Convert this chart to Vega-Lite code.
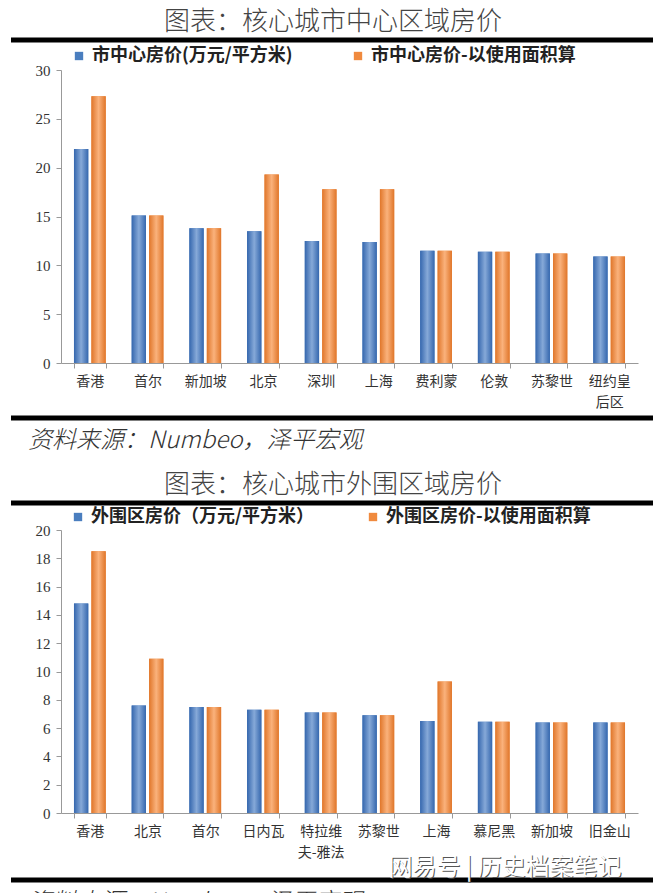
{
  "$schema": "https://vega.github.io/schema/vega-lite/v6.json",
  "padding": {"left": 8, "top": 0, "right": 0, "bottom": 0},
  "background": "white",
  "spacing": 0,
  "bounds": "flush",
  "config": {"view": {"stroke": null}, "font": "Noto Sans CJK SC"},
  "resolve": {
    "scale": {"x": "independent", "y": "independent", "color": "independent", "xOffset": "independent", "fill": "independent"},
    "legend": {"color": "independent"},
    "axis": {"x": "independent", "y": "independent"}
  },
  "datasets": {
    "center": [
      {"city": "香港", "series": "市中心房价(万元/平方米)", "value": 21.9},
      {"city": "香港", "series": "市中心房价-以使用面积算", "value": 27.3},
      {"city": "首尔", "series": "市中心房价(万元/平方米)", "value": 15.1},
      {"city": "首尔", "series": "市中心房价-以使用面积算", "value": 15.1},
      {"city": "新加坡", "series": "市中心房价(万元/平方米)", "value": 13.8},
      {"city": "新加坡", "series": "市中心房价-以使用面积算", "value": 13.8},
      {"city": "北京", "series": "市中心房价(万元/平方米)", "value": 13.5},
      {"city": "北京", "series": "市中心房价-以使用面积算", "value": 19.3},
      {"city": "深圳", "series": "市中心房价(万元/平方米)", "value": 12.5},
      {"city": "深圳", "series": "市中心房价-以使用面积算", "value": 17.8},
      {"city": "上海", "series": "市中心房价(万元/平方米)", "value": 12.4},
      {"city": "上海", "series": "市中心房价-以使用面积算", "value": 17.8},
      {"city": "费利蒙", "series": "市中心房价(万元/平方米)", "value": 11.5},
      {"city": "费利蒙", "series": "市中心房价-以使用面积算", "value": 11.5},
      {"city": "伦敦", "series": "市中心房价(万元/平方米)", "value": 11.4},
      {"city": "伦敦", "series": "市中心房价-以使用面积算", "value": 11.4},
      {"city": "苏黎世", "series": "市中心房价(万元/平方米)", "value": 11.2},
      {"city": "苏黎世", "series": "市中心房价-以使用面积算", "value": 11.2},
      {"city": "纽约皇后区", "series": "市中心房价(万元/平方米)", "value": 10.9},
      {"city": "纽约皇后区", "series": "市中心房价-以使用面积算", "value": 10.9}
    ],
    "outer": [
      {"city": "香港", "series": "外围区房价（万元/平方米）", "value": 14.8},
      {"city": "香港", "series": "外围区房价-以使用面积算", "value": 18.5},
      {"city": "北京", "series": "外围区房价（万元/平方米）", "value": 7.6},
      {"city": "北京", "series": "外围区房价-以使用面积算", "value": 10.9},
      {"city": "首尔", "series": "外围区房价（万元/平方米）", "value": 7.5},
      {"city": "首尔", "series": "外围区房价-以使用面积算", "value": 7.5},
      {"city": "日内瓦", "series": "外围区房价（万元/平方米）", "value": 7.3},
      {"city": "日内瓦", "series": "外围区房价-以使用面积算", "value": 7.3},
      {"city": "特拉维夫-雅法", "series": "外围区房价（万元/平方米）", "value": 7.1},
      {"city": "特拉维夫-雅法", "series": "外围区房价-以使用面积算", "value": 7.1},
      {"city": "苏黎世", "series": "外围区房价（万元/平方米）", "value": 6.9},
      {"city": "苏黎世", "series": "外围区房价-以使用面积算", "value": 6.9},
      {"city": "上海", "series": "外围区房价（万元/平方米）", "value": 6.5},
      {"city": "上海", "series": "外围区房价-以使用面积算", "value": 9.3},
      {"city": "慕尼黑", "series": "外围区房价（万元/平方米）", "value": 6.45},
      {"city": "慕尼黑", "series": "外围区房价-以使用面积算", "value": 6.45},
      {"city": "新加坡", "series": "外围区房价（万元/平方米）", "value": 6.4},
      {"city": "新加坡", "series": "外围区房价-以使用面积算", "value": 6.4},
      {"city": "旧金山", "series": "外围区房价（万元/平方米）", "value": 6.4},
      {"city": "旧金山", "series": "外围区房价-以使用面积算", "value": 6.4}
    ]
  },
  "vconcat": [
    {
      "width": 577, "height": 70,
      "data": {"values": [{}]},
      "layer": [
        {
          "mark": {"type": "text", "fontSize": 26, "color": "#444", "fontWeight": 300, "baseline": "middle", "align": "center"},
          "encoding": {
            "x": {"datum": 272, "type": "quantitative", "scale": {"domain": [0, 577], "nice": false, "zero": false}, "axis": null},
            "y": {"datum": 22, "type": "quantitative", "scale": {"domain": [0, 70], "nice": false, "zero": false, "reverse": true}, "axis": null},
            "text": {"value": "图表：核心城市中心区域房价"}
          }
        },
        {
          "mark": {"type": "rule", "strokeWidth": 5, "color": "black"},
          "encoding": {
            "x": {"datum": -50, "type": "quantitative"},
            "x2": {"datum": 592},
            "y": {"datum": 40, "type": "quantitative"}
          }
        }
      ]
    },
    {
      "width": 577, "height": 293,
      "data": {"name": "center"},
      "encoding": {
        "x": {"field": "city", "type": "nominal", "sort": null,
          "scale": {"paddingInner": 0.45, "paddingOuter": 0.225},
          "axis": {"title": null, "labelAngle": 0, "tickBand": "extent", "labelFont": "Noto Sans CJK SC", "labelFontSize": 14, "labelColor": "#333", "domainColor": "#999", "tickColor": "#999", "tickSize": 5, "labelPadding": 6, "labelLineHeight": 21,
            "labelExpr": "datum.label == '纽约皇后区' ? ['纽约皇', '后区'] : datum.label"}},
        "xOffset": {"field": "series", "type": "nominal", "sort": null, "scale": {"paddingInner": 0.18}},
        "y": {"field": "value", "type": "quantitative", "scale": {"domain": [0, 30], "nice": false},
          "axis": {"title": null, "values": [0, 5, 10, 15, 20, 25, 30], "grid": false, "labelFont": "Liberation Serif, serif", "labelFontSize": 15, "labelColor": "#333", "domainColor": "#999", "tickColor": "#999", "tickSize": 5, "labelPadding": 6}}
      },
      "layer": [
        {
          "mark": {"type": "bar"},
          "encoding": {
            "color": {"field": "series", "type": "nominal", "sort": null,
              "scale": {"range": ["#4A7EBF", "#F08A3E"]},
              "legend": {"title": null, "orient": "none", "legendX": 9, "legendY": -23, "direction": "horizontal", "symbolType": "square", "symbolSize": 70, "labelFont": "Noto Sans CJK SC", "labelFontSize": 18, "labelFontWeight": "bold", "labelColor": "#222", "columnPadding": 56, "labelLimit": 400, "symbolStrokeWidth": 0}}
          }
        },
        {
          "mark": {"type": "bar"},
          "encoding": {
            "fill": {
              "condition": {"test": "indexof(datum.series, '以使用') >= 0",
                "value": {"gradient": "linear", "x1": 0, "x2": 1, "y1": 0, "y2": 0, "stops": [{"offset": 0, "color": "#E0762A"}, {"offset": 0.5, "color": "#FAB27C"}, {"offset": 1, "color": "#E0762A"}]}},
              "value": {"gradient": "linear", "x1": 0, "x2": 1, "y1": 0, "y2": 0, "stops": [{"offset": 0, "color": "#3567AE"}, {"offset": 0.5, "color": "#86A9D8"}, {"offset": 1, "color": "#3567AE"}]}
            }
          }
        }
      ]
    },
    {
      "width": 577, "height": 167,
      "data": {"values": [{}]},
      "layer": [
        {
          "mark": {"type": "rule", "strokeWidth": 5, "color": "black"},
          "encoding": {
            "x": {"datum": -50, "type": "quantitative", "scale": {"domain": [0, 577], "nice": false, "zero": false}, "axis": null},
            "x2": {"datum": 592},
            "y": {"datum": 55, "type": "quantitative", "scale": {"domain": [0, 167], "nice": false, "zero": false, "reverse": true}, "axis": null}
          }
        },
        {
          "mark": {"type": "text", "fontSize": 24, "color": "#333", "fontStyle": "italic", "fontWeight": 300, "baseline": "middle", "align": "left"},
          "encoding": {
            "x": {"datum": -33, "type": "quantitative"},
            "y": {"datum": 78, "type": "quantitative"},
            "text": {"value": "资料来源：Numbeo，泽平宏观"}
          }
        },
        {
          "mark": {"type": "text", "fontSize": 26, "color": "#444", "fontWeight": 300, "baseline": "middle", "align": "center"},
          "encoding": {
            "x": {"datum": 272, "type": "quantitative"},
            "y": {"datum": 122, "type": "quantitative"},
            "text": {"value": "图表：核心城市外围区域房价"}
          }
        },
        {
          "mark": {"type": "rule", "strokeWidth": 5, "color": "black"},
          "encoding": {
            "x": {"datum": -50, "type": "quantitative"},
            "x2": {"datum": 592},
            "y": {"datum": 140, "type": "quantitative"}
          }
        }
      ]
    },
    {
      "width": 577, "height": 283,
      "data": {"name": "outer"},
      "encoding": {
        "x": {"field": "city", "type": "nominal", "sort": null,
          "scale": {"paddingInner": 0.45, "paddingOuter": 0.225},
          "axis": {"title": null, "labelAngle": 0, "tickBand": "extent", "labelFont": "Noto Sans CJK SC", "labelFontSize": 14, "labelColor": "#333", "domainColor": "#999", "tickColor": "#999", "tickSize": 5, "labelPadding": 6, "labelLineHeight": 21,
            "labelExpr": "datum.label == '特拉维夫-雅法' ? ['特拉维', '夫-雅法'] : datum.label"}},
        "xOffset": {"field": "series", "type": "nominal", "sort": null, "scale": {"paddingInner": 0.18}},
        "y": {"field": "value", "type": "quantitative", "scale": {"domain": [0, 20], "nice": false},
          "axis": {"title": null, "values": [0, 2, 4, 6, 8, 10, 12, 14, 16, 18, 20], "grid": false, "labelFont": "Liberation Serif, serif", "labelFontSize": 15, "labelColor": "#333", "domainColor": "#999", "tickColor": "#999", "tickSize": 5, "labelPadding": 6}}
      },
      "layer": [
        {
          "mark": {"type": "bar"},
          "encoding": {
            "color": {"field": "series", "type": "nominal", "sort": null,
              "scale": {"range": ["#4A7EBF", "#F08A3E"]},
              "legend": {"title": null, "orient": "none", "legendX": 8, "legendY": -22, "direction": "horizontal", "symbolType": "square", "symbolSize": 70, "labelFont": "Noto Sans CJK SC", "labelFontSize": 18, "labelFontWeight": "bold", "labelColor": "#222", "columnPadding": 50, "labelLimit": 400, "symbolStrokeWidth": 0}}
          }
        },
        {
          "mark": {"type": "bar"},
          "encoding": {
            "fill": {
              "condition": {"test": "indexof(datum.series, '以使用') >= 0",
                "value": {"gradient": "linear", "x1": 0, "x2": 1, "y1": 0, "y2": 0, "stops": [{"offset": 0, "color": "#E0762A"}, {"offset": 0.5, "color": "#FAB27C"}, {"offset": 1, "color": "#E0762A"}]}},
              "value": {"gradient": "linear", "x1": 0, "x2": 1, "y1": 0, "y2": 0, "stops": [{"offset": 0, "color": "#3567AE"}, {"offset": 0.5, "color": "#86A9D8"}, {"offset": 1, "color": "#3567AE"}]}
            }
          }
        }
      ]
    },
    {
      "width": 577, "height": 80,
      "data": {"values": [{}]},
      "layer": [
        {
          "mark": {"type": "rule", "strokeWidth": 5, "color": "black"},
          "encoding": {
            "x": {"datum": -50, "type": "quantitative", "scale": {"domain": [0, 577], "nice": false, "zero": false}, "axis": null},
            "x2": {"datum": 592},
            "y": {"datum": 67, "type": "quantitative", "scale": {"domain": [0, 80], "nice": false, "zero": false, "reverse": true}, "axis": null}
          }
        },
        {
          "mark": {"type": "text", "fontSize": 24, "color": "#333", "fontStyle": "italic", "fontWeight": 300, "baseline": "middle", "align": "left"},
          "encoding": {
            "x": {"datum": -33, "type": "quantitative"},
            "y": {"datum": 90, "type": "quantitative"},
            "text": {"value": "资料来源：Numbeo，泽平宏观"}
          }
        },
        {
          "mark": {"type": "text", "fontSize": 24, "color": "#555", "baseline": "middle", "align": "center", "dx": 1, "dy": 1},
          "encoding": {
            "x": {"datum": 444, "type": "quantitative"},
            "y": {"datum": 55, "type": "quantitative"},
            "text": {"value": "网易号 | 历史档案笔记"}
          }
        },
        {
          "mark": {"type": "text", "fontSize": 24, "color": "#ffffff", "baseline": "middle", "align": "center"},
          "encoding": {
            "x": {"datum": 444, "type": "quantitative"},
            "y": {"datum": 55, "type": "quantitative"},
            "text": {"value": "网易号 | 历史档案笔记"}
          }
        }
      ]
    }
  ]
}
